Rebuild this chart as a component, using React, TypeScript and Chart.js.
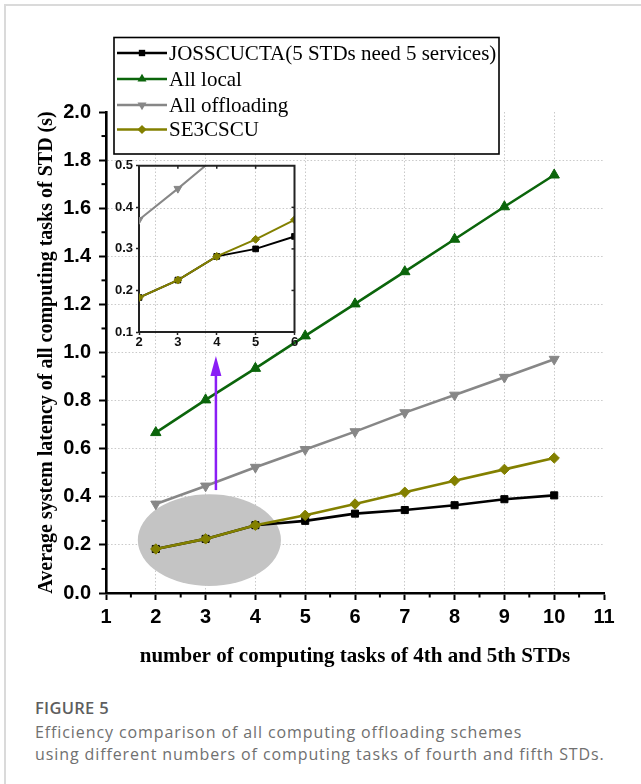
import React, { useEffect, useRef } from "react";
import { Chart, registerables } from "chart.js";

Chart.register(...registerables);

// ---------- data ----------
const xValues = [2, 3, 4, 5, 6, 7, 8, 9, 10];
const jossValues = [0.183, 0.225, 0.282, 0.3, 0.33, 0.345, 0.365, 0.39, 0.406];
const allLocalValues = [0.667, 0.803, 0.934, 1.069, 1.202, 1.336, 1.471, 1.606, 1.738];
const allOffloadingValues = [0.37, 0.445, 0.523, 0.597, 0.671, 0.75, 0.823, 0.897, 0.972];
const se3cscuValues = [0.183, 0.225, 0.282, 0.323, 0.37, 0.419, 0.467, 0.514, 0.561];

const seriesLabels = [
  "JOSSCUCTA(5 STDs need 5 services)",
  "All local",
  "All offloading",
  "SE3CSCU",
];
const seriesValues = [jossValues, allLocalValues, allOffloadingValues, se3cscuValues];

const xAxisTitle = "number of computing tasks of 4th and 5th STDs";
const yAxisTitle = "Average system latency of all computing tasks of STD (s)";
const captionHead = "FIGURE 5";
const captionLines = [
  "Efficiency comparison of all computing offloading schemes",
  "using different numbers of computing tasks of fourth and fifth STDs.",
];

// annotation (data coordinates)
const ellipseCenter = { x: 3.076, y: 0.22 };
const ellipseRadius = { x: 1.437, y: 0.191 };
const arrowX = 3.207;
const arrowFromY = 0.428;
const arrowToY = 0.985;

// ---------- styles ----------
const colors = ["#000000", "#0b650b", "#878787", "#838000"];
const markerStyles = ["rect", "triangle", "triangle", "rectRot"];
const markerRotations = [0, 0, 180, 0];
const mainRadii = [5, 6, 5.8, 5.2];
const insetRadii = [4, 4.5, 4.5, 4];
const drawOrder = [2, 1, 1, 0];

const SERIF = "'Liberation Serif', 'Times New Roman', Times, serif";
const SANS = "'Liberation Sans', Arial, Helvetica, sans-serif";

function buildDatasets(radii: number[], lineWidth: number) {
  return seriesValues.map((vals, i) => ({
    label: seriesLabels[i],
    data: xValues.map((x, k) => ({ x, y: vals[k] })),
    borderColor: colors[i],
    backgroundColor: colors[i],
    pointBackgroundColor: colors[i],
    pointBorderColor: colors[i],
    pointBorderWidth: 1,
    borderWidth: lineWidth,
    pointStyle: markerStyles[i],
    pointRotation: markerRotations[i],
    pointRadius: radii[i],
    tension: 0,
    order: drawOrder[i],
  }));
}

function drawMarker(ctx: CanvasRenderingContext2D, i: number, x: number, y: number, r: number) {
  ctx.beginPath();
  const s = markerStyles[i];
  if (s === "rect") {
    const h = r * Math.SQRT1_2;
    ctx.rect(x - h, y - h, 2 * h, 2 * h);
  } else if (s === "triangle") {
    const dir = markerRotations[i] === 180 ? -1 : 1;
    ctx.moveTo(x, y - dir * r);
    ctx.lineTo(x + r * 0.866, y + dir * r * 0.5);
    ctx.lineTo(x - r * 0.866, y + dir * r * 0.5);
  } else {
    ctx.moveTo(x, y - r);
    ctx.lineTo(x + r, y);
    ctx.lineTo(x, y + r);
    ctx.lineTo(x - r, y);
  }
  ctx.closePath();
  ctx.fillStyle = colors[i];
  ctx.fill();
}

const mainDecor = {
  id: "mainDecor",
  beforeDatasetsDraw(chart: any) {
    const { ctx, scales } = chart;
    const xs = scales.x;
    const ys = scales.y;
    const cx = xs.getPixelForValue(ellipseCenter.x);
    const cy = ys.getPixelForValue(ellipseCenter.y);
    const rx = Math.abs(xs.getPixelForValue(ellipseCenter.x + ellipseRadius.x) - cx);
    const ry = Math.abs(ys.getPixelForValue(ellipseCenter.y + ellipseRadius.y) - cy);
    ctx.save();
    ctx.beginPath();
    ctx.ellipse(cx, cy, rx, ry, 0, 0, Math.PI * 2);
    ctx.fillStyle = "#c4c4c4";
    ctx.fill();
    ctx.restore();
  },
  afterDatasetsDraw(chart: any) {
    const { ctx, scales } = chart;
    const px = scales.x.getPixelForValue(arrowX);
    const y1 = scales.y.getPixelForValue(arrowFromY);
    const y2 = scales.y.getPixelForValue(arrowToY);
    const headLen = 20;
    const headHalf = 5.5;
    ctx.save();
    ctx.strokeStyle = "#8a1ef5";
    ctx.fillStyle = "#8a1ef5";
    ctx.lineWidth = 2.5;
    ctx.beginPath();
    ctx.moveTo(px, y1);
    ctx.lineTo(px, y2 + headLen - 2);
    ctx.stroke();
    ctx.beginPath();
    ctx.moveTo(px, y2);
    ctx.lineTo(px + headHalf, y2 + headLen);
    ctx.lineTo(px - headHalf, y2 + headLen);
    ctx.closePath();
    ctx.fill();
    ctx.restore();
  },
  afterDraw(chart: any) {
    const { ctx, scales } = chart;
    const xs = scales.x;
    const ys = scales.y;
    // minor ticks
    ctx.save();
    ctx.strokeStyle = "#000";
    ctx.lineWidth = 2;
    const bottom = ys.getPixelForValue(0);
    for (let v = 1.5; v < 11; v += 1) {
      const p = xs.getPixelForValue(v);
      ctx.beginPath();
      ctx.moveTo(p, bottom);
      ctx.lineTo(p, bottom + 4.5);
      ctx.stroke();
    }
    const left = xs.getPixelForValue(1);
    for (let k = 0; k < 10; k++) {
      const p = ys.getPixelForValue(0.1 + k * 0.2);
      ctx.beginPath();
      ctx.moveTo(left, p);
      ctx.lineTo(left - 4.5, p);
      ctx.stroke();
    }
    ctx.restore();

    // legend box
    const bx = 114, by = 37.5, bw = 385, bh = 116.5;
    const rowY = [53, 79, 105, 129.5];
    ctx.save();
    ctx.fillStyle = "#ffffff";
    ctx.fillRect(bx, by, bw, bh);
    ctx.strokeStyle = "#000";
    ctx.lineWidth = 1.6;
    ctx.strokeRect(bx, by, bw, bh);
    ctx.font = `21px ${SERIF}`;
    ctx.textBaseline = "middle";
    ctx.textAlign = "left";
    for (let i = 0; i < 4; i++) {
      const y = rowY[i];
      ctx.strokeStyle = colors[i];
      ctx.lineWidth = 2.6;
      ctx.beginPath();
      ctx.moveTo(117, y);
      ctx.lineTo(167, y);
      ctx.stroke();
      drawMarker(ctx, i, 142, y, i === 0 ? 4.5 : i === 3 ? 4.6 : 5.2);
      ctx.fillStyle = "#000";
      ctx.fillText(seriesLabels[i], 169, y + 1);
    }
    ctx.restore();
  },
};

const insetFrame = {
  id: "insetFrame",
  afterDraw(chart: any) {
    const { ctx, chartArea, scales } = chart;
    ctx.save();
    ctx.strokeStyle = "#222";
    ctx.lineWidth = 2;
    ctx.beginPath();
    ctx.moveTo(chartArea.left - 1, chartArea.top);
    ctx.lineTo(chartArea.right, chartArea.top);
    ctx.lineTo(chartArea.right, chartArea.bottom + 1);
    ctx.stroke();
    ctx.lineWidth = 1.5;
    for (let v = 3; v <= 5; v++) {
      const p = scales.x.getPixelForValue(v);
      ctx.beginPath();
      ctx.moveTo(p, chartArea.top);
      ctx.lineTo(p, chartArea.top + 3);
      ctx.stroke();
    }
    for (let k = 0; k < 3; k++) {
      const p = scales.y.getPixelForValue(0.2 + k * 0.1);
      ctx.beginPath();
      ctx.moveTo(chartArea.right, p);
      ctx.lineTo(chartArea.right - 3, p);
      ctx.stroke();
    }
    ctx.restore();
  },
};

function nearly(a: number, b: number) {
  return Math.abs(a - b) < 1e-6;
}

export default function App() {
  const mainRef = useRef<HTMLCanvasElement | null>(null);
  const insetRef = useRef<HTMLCanvasElement | null>(null);

  useEffect(() => {
    if (!mainRef.current || !insetRef.current) return;
    const gridColor = "#c9c9c9";
    const main = new Chart(mainRef.current, {
      type: "line",
      data: { datasets: buildDatasets(mainRadii, 2.6) as any },
      options: {
        animation: false,
        responsive: false,
        maintainAspectRatio: false,
        layout: { padding: { top: 112, right: 37, left: 0, bottom: 0 } },
        plugins: { legend: { display: false }, tooltip: { enabled: false } },
        scales: {
          x: {
            type: "linear",
            min: 1,
            max: 11,
            ticks: {
              stepSize: 1,
              autoSkip: false,
              maxRotation: 0,
              color: "#000",
              padding: 5,
              font: { family: SANS, size: 20, weight: "bold" },
            },
            grid: {
              color: (c: any) =>
                c.tick && (nearly(c.tick.value, 1) || nearly(c.tick.value, 11))
                  ? "rgba(0,0,0,0)"
                  : gridColor,
              lineWidth: 1,
              tickLength: 7,
              tickColor: "#000",
              tickWidth: 2,
            },
            border: { color: "#000", width: 2.6, dash: [1.5, 2] },
            title: {
              display: true,
              text: xAxisTitle,
              color: "#000",
              font: { family: SERIF, size: 21, weight: "bold" },
              padding: { top: 0, bottom: 11 },
            },
            afterFit: (s: any) => {
              s.height = 87;
            },
          },
          y: {
            type: "linear",
            min: 0,
            max: 2,
            ticks: {
              stepSize: 0.2,
              color: "#000",
              padding: 8,
              font: { family: SANS, size: 20, weight: "bold" },
              callback: (v: any) => Number(v).toFixed(1),
            },
            grid: {
              color: (c: any) =>
                c.tick && (nearly(c.tick.value, 0) || nearly(c.tick.value, 2))
                  ? "rgba(0,0,0,0)"
                  : gridColor,
              lineWidth: 1,
              tickLength: 7,
              tickColor: "#000",
              tickWidth: 2,
            },
            border: { color: "#000", width: 2.6, dash: [1.5, 2] },
            title: {
              display: true,
              text: yAxisTitle,
              color: "#000",
              font: { family: SERIF, size: 20, weight: "bold" },
              padding: { top: 35, bottom: 0 },
            },
            afterFit: (s: any) => {
              s.width = 106;
            },
          },
        },
      } as any,
      plugins: [mainDecor],
    });

    const inset = new Chart(insetRef.current, {
      type: "line",
      data: { datasets: buildDatasets(insetRadii, 2) as any },
      options: {
        animation: false,
        responsive: false,
        maintainAspectRatio: false,
        layout: { padding: { top: 8, right: 5, left: 0, bottom: 0 } },
        plugins: { legend: { display: false }, tooltip: { enabled: false } },
        scales: {
          x: {
            type: "linear",
            min: 2,
            max: 6,
            ticks: {
              stepSize: 1,
              autoSkip: false,
              maxRotation: 0,
              color: "#111",
              padding: 0,
              font: { family: SANS, size: 13, weight: "bold" },
            },
            grid: { drawOnChartArea: false, tickLength: 3, tickColor: "#222", tickWidth: 1.5 },
            border: { color: "#222", width: 2 },
            afterFit: (s: any) => {
              s.height = 20;
            },
          },
          y: {
            type: "linear",
            min: 0.1,
            max: 0.5,
            ticks: {
              stepSize: 0.1,
              color: "#111",
              padding: 3,
              font: { family: SANS, size: 13, weight: "bold" },
              callback: (v: any) => Number(v).toFixed(1),
            },
            grid: { drawOnChartArea: false, tickLength: 3, tickColor: "#222", tickWidth: 1.5 },
            border: { color: "#222", width: 2 },
            afterFit: (s: any) => {
              s.width = 29;
            },
          },
        },
      } as any,
      plugins: [insetFrame],
    });

    return () => {
      main.destroy();
      inset.destroy();
    };
  }, []);

  return (
    <div
      style={{
        position: "fixed",
        left: 0,
        top: 0,
        width: 641,
        height: 784,
        overflow: "hidden",
        background: "#fff",
      }}
    >
      <div
        style={{
          position: "absolute",
          left: 4,
          top: 4,
          width: 700,
          height: 800,
          borderTop: "2px solid #dadada",
          borderLeft: "2px solid #dadada",
        }}
      />
      <canvas
        ref={mainRef}
        width={641}
        height={680}
        style={{ position: "absolute", left: 0, top: 0, width: 641, height: 680 }}
      />
      <canvas
        ref={insetRef}
        width={190}
        height={197}
        style={{ position: "absolute", left: 110, top: 155, width: 190, height: 197 }}
      />
      <div
        style={{
          position: "absolute",
          left: 35,
          top: 698,
          fontFamily: "'Open Sans', 'Noto Sans', sans-serif",
          fontWeight: 600,
          fontSize: 16.5,
          lineHeight: "20px",
          letterSpacing: "0.3px",
          color: "#5e5e5e",
          whiteSpace: "nowrap",
        }}
      >
        {captionHead}
      </div>
      <div
        style={{
          position: "absolute",
          left: 35,
          top: 721,
          fontFamily: "'Open Sans', 'Noto Sans', sans-serif",
          fontWeight: 400,
          fontSize: 16,
          lineHeight: "22px",
          letterSpacing: "0.9px",
          color: "#707070",
          whiteSpace: "nowrap",
        }}
      >
        {captionLines.map((l, i) => (
          <div key={i}>{l}</div>
        ))}
      </div>
    </div>
  );
}
